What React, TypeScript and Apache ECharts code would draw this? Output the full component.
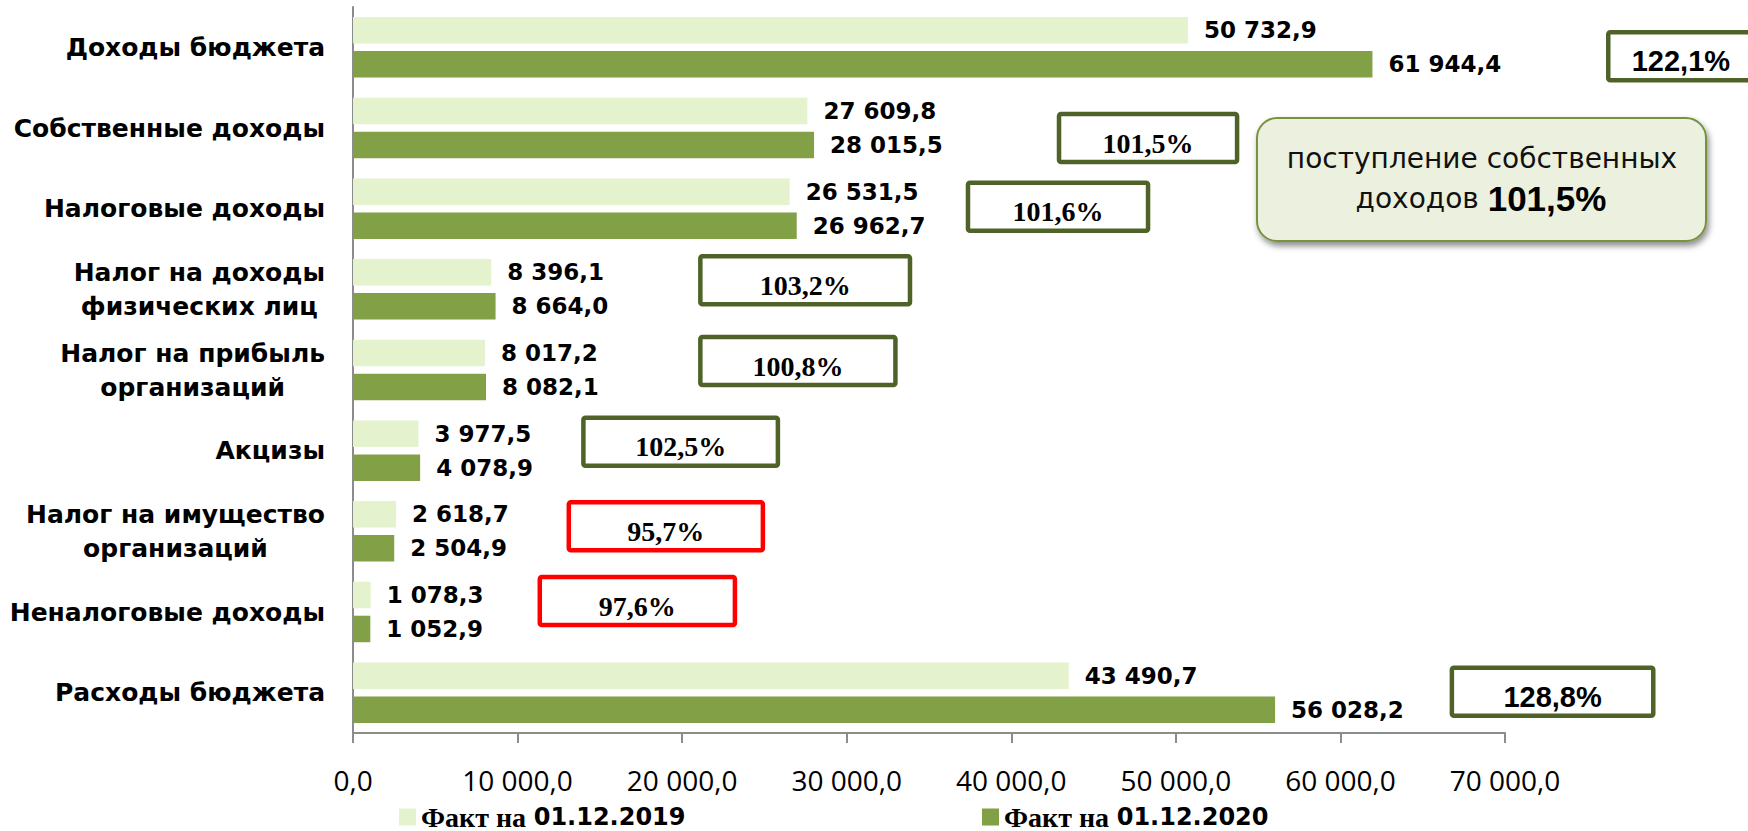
import React, { useEffect, useRef } from "react";
import * as echarts from "echarts";

const categories = [
  "Доходы бюджета",
  "Собственные доходы",
  "Налоговые доходы",
  "Налог на доходы\nфизических лиц",
  "Налог на прибыль\nорганизаций",
  "Акцизы",
  "Налог на имущество\nорганизаций",
  "Неналоговые доходы",
  "Расходы бюджета",
];
const fact2019 = [50732.9, 27609.8, 26531.5, 8396.1, 8017.2, 3977.5, 2618.7, 1078.3, 43490.7];
const fact2020 = [61944.4, 28015.5, 26962.7, 8664.0, 8082.1, 4078.9, 2504.9, 1052.9, 56028.2];
const seriesNames = ["Факт на 01.12.2019", "Факт на 01.12.2020"];
const xTicks = { min: 0, max: 70000, interval: 10000 };
const calloutText = "поступление собственных";
const calloutPrefix = "доходов";
const calloutIndex = 1;

// annotation layout (box extents in axis units, vertical shift in px)
const boxFrom = [76274, 42900, 37368, 21106, 21106, 14000, 13113, 11350, 66772];
const boxTo = [85100, 53720, 48310, 33845, 32960, 25818, 24906, 23207, 79009];
const boxShift = [9, 10, -2, -9, -9, -9, -5, -11, -1];
const sansBoxes = [0, 8];

const LIGHT = "#E4F2CD";
const DARK = "#82A046";
const AXIS = "#8c8c8c";

function fmt(v: number): string {
  const s = v.toFixed(1);
  const [i, d] = s.split(".");
  return i.replace(/\B(?=(\d{3})+(?!\d))/g, " ") + "," + d;
}
function pct(a: number, b: number): string {
  return ((b / a) * 100).toFixed(1).replace(".", ",") + "%";
}
const ratios = fact2019.map((v, i) => fact2020[i] / v);
const ratioLabels = fact2019.map((v, i) => pct(v, fact2020[i]));

export default function App() {
  const ref = useRef<HTMLDivElement>(null);
  useEffect(() => {
    if (!ref.current) return;
    const chart = echarts.init(ref.current, undefined, { renderer: "svg" });
    const valueLabel = {
      show: true,
      position: "right",
      distance: 16,
      formatter: (p: any) => fmt(p.value),
      fontFamily: "DejaVu Sans",
      fontWeight: "bold",
      fontSize: 23,
      color: "#000",
    };
    const legendFormatter = (name: string) => {
      const k = name.lastIndexOf(" ");
      return `{a|${name.slice(0, k)}} {b|${name.slice(k + 1)}}`;
    };
    const legendText = {
      fontFamily: "DejaVu Sans",
      fontSize: 24,
      lineHeight: 22,
      color: "#000",
      rich: {
        a: { fontFamily: "Liberation Serif", fontWeight: "bold", fontSize: 28, lineHeight: 22, color: "#000" },
        b: { fontFamily: "DejaVu Sans", fontWeight: "bold", fontSize: 24, lineHeight: 22, color: "#000" },
      },
    };
    const option: any = {
      animation: false,
      backgroundColor: "#fff",
      grid: { left: 353, right: 243, top: 7, bottom: 98 },
      legend: [
        {
          data: [seriesNames[0]],
          left: 399,
          top: 803,
          padding: 0,
          icon: "rect",
          itemWidth: 17,
          itemHeight: 17,
          formatter: legendFormatter,
          textStyle: legendText,
        },
        {
          data: [seriesNames[1]],
          left: 982,
          top: 803,
          padding: 0,
          icon: "rect",
          itemWidth: 17,
          itemHeight: 17,
          formatter: legendFormatter,
          textStyle: legendText,
        },
      ],
      xAxis: {
        type: "value",
        min: xTicks.min,
        max: xTicks.max,
        interval: xTicks.interval,
        splitLine: { show: false },
        axisLine: { show: true, lineStyle: { color: AXIS, width: 2 } },
        axisTick: { show: true, length: 10, lineStyle: { color: AXIS, width: 2 } },
        axisLabel: {
          margin: 33,
          formatter: (v: number) => fmt(v),
          fontFamily: "Open Sans",
          fontSize: 28,
          color: "#000",
        },
      },
      yAxis: {
        type: "category",
        inverse: true,
        data: categories,
        axisLine: { show: true, lineStyle: { color: AXIS, width: 2 } },
        axisTick: { show: false },
        axisLabel: {
          margin: 28,
          formatter: (v: string) =>
            v
              .split("\n")
              .map((l) => `{c|${l}}`)
              .join("\n"),
          rich: {
            c: {
              align: "center",
              fontFamily: "DejaVu Sans",
              fontWeight: "bold",
              fontSize: 25,
              lineHeight: 34,
              color: "#000",
            },
          },
        },
      },
      series: [
        {
          name: seriesNames[0],
          type: "bar",
          data: fact2019,
          itemStyle: { color: LIGHT },
          barCategoryGap: "25%",
          barGap: "28%",
          label: valueLabel,
        },
        {
          name: seriesNames[1],
          type: "bar",
          data: fact2020,
          itemStyle: { color: DARK },
          barCategoryGap: "25%",
          barGap: "28%",
          label: valueLabel,
        },
        {
          type: "custom",
          clip: false,
          z: 5,
          encode: { x: [0, 2], y: 1 },
          data: categories.map((_, i) => [boxFrom[i], i, boxTo[i]]),
          renderItem: (params: any, api: any) => {
            const i = params.dataIndex;
            const p1 = api.coord([api.value(0), i]);
            const p2 = api.coord([api.value(2), i]);
            const cy = p1[1] + boxShift[i];
            const h = 48;
            const red = ratios[i] < 1;
            const sans = sansBoxes.indexOf(i) >= 0;
            return {
              type: "group",
              children: [
                {
                  type: "rect",
                  shape: { x: p1[0], y: cy - h / 2, width: p2[0] - p1[0], height: h, r: 2 },
                  style: { fill: "#fff", stroke: red ? "#FF0000" : "#4F6228", lineWidth: 4.5 },
                },
                {
                  type: "text",
                  x: (p1[0] + p2[0]) / 2,
                  y: cy + 5,
                  style: {
                    text: ratioLabels[i],
                    align: "center",
                    verticalAlign: "middle",
                    fontFamily: sans ? "Liberation Sans" : "Liberation Serif",
                    fontWeight: "bold",
                    fontSize: sans ? 29 : 28,
                    fill: "#000",
                  },
                },
              ],
            };
          },
        },
      ],
      graphic: [
        {
          type: "group",
          left: 1256,
          top: 117,
          children: [
            {
              type: "rect",
              shape: { x: 0, y: 0, width: 449, height: 123, r: 20 },
              style: {
                fill: "#EBF1DE",
                stroke: "#77933C",
                lineWidth: 2,
                shadowBlur: 6,
                shadowOffsetX: 2,
                shadowOffsetY: 4,
                shadowColor: "rgba(0,0,0,0.45)",
              },
            },
            {
              type: "text",
              x: 225,
              y: 40,
              style: {
                text: calloutText,
                align: "center",
                verticalAlign: "middle",
                fontFamily: "DejaVu Sans",
                fontSize: 28,
                fill: "#111",
              },
            },
            {
              type: "text",
              x: 224,
              y: 80,
              style: {
                text: `{p|${calloutPrefix} }{v|${ratioLabels[calloutIndex]}}`,
                align: "center",
                verticalAlign: "middle",
                rich: {
                  p: { fontFamily: "DejaVu Sans", fontSize: 28, fill: "#111" },
                  v: { fontFamily: "Liberation Sans", fontWeight: "bold", fontSize: 35, fill: "#000" },
                },
              },
            },
          ],
        },
      ],
    };
    chart.setOption(option);
    return () => chart.dispose();
  }, []);
  return (
    <div
      ref={ref}
      style={{ position: "fixed", left: 0, top: 0, width: 1748, height: 831 }}
    />
  );
}
